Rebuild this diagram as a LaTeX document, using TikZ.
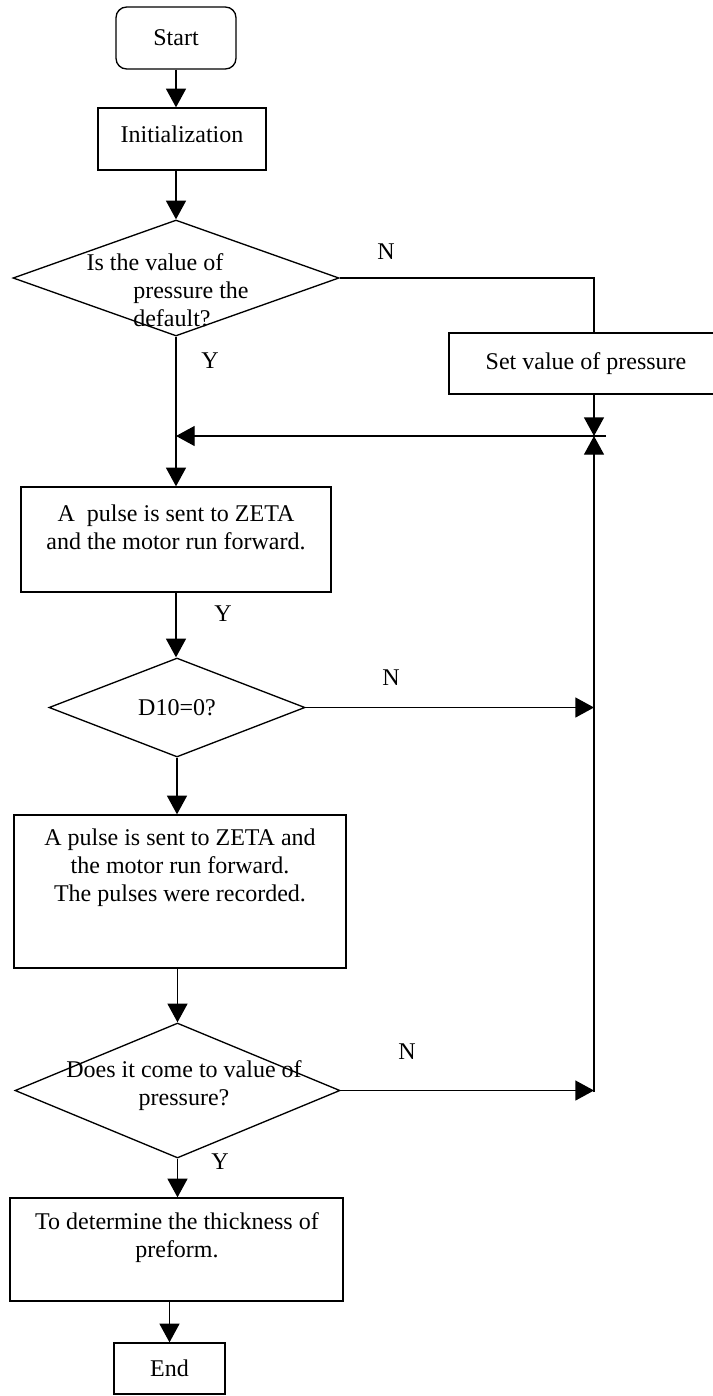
\documentclass[tikz,border=0pt]{standalone}
\usepackage{fontspec}
\setmainfont{Liberation Serif}
\usetikzlibrary{shapes.geometric,arrows.meta}
\begin{document}
\begin{tikzpicture}[x=0.75pt,y=-0.75pt,
  line width=1pt,
  txt/.style={font=\fontsize{18}{21}\selectfont, inner sep=0pt, align=center},
  sz/.style 2 args={minimum width=#1*0.75pt, minimum height=#2*0.75pt},
  box/.style={draw, rectangle, inner sep=0pt, txt},
  dia/.style={draw, diamond, inner sep=0pt, txt},
  arr/.style={-{Triangle[length=14pt,width=15pt]}},
]
\useasboundingbox (0,0) rectangle (713,1396);
\fill[white] (0,0) rectangle (713,1396);

% shapes
\node[box, rounded corners=8pt, sz={120}{62}] (start) at (176,38) {Start};
\node[box, sz={168}{62}] (init) at (182,139) {};
\node[txt] (initT) at (182,134) {Initialization};
\node[dia, sz={326}{116}] (d1) at (176,278) {};
\node[txt, anchor=west, align=left] (d1T) at (86,290) {Is the value of\\\hspace*{35pt}pressure the\\\hspace*{35pt}default?};
\node[box, sz={274}{61}] (set) at (586,363.5) {Set value of pressure};
\node[box, sz={310}{105}] (b2) at (176,539.5) {};
\node[txt] (b2T) at (176,527) {A\ \ pulse is sent to ZETA\\and the motor run forward.};
\node[dia, sz={256}{99}] (d2) at (177,707.5) {D10=0?};
\node[box, sz={332}{153}] (b3) at (180,891.5) {};
\node[txt] (b3T) at (180,868) {A pulse is sent to ZETA and\\the motor run forward.\\The pulses were recorded.};
\node[dia, sz={325}{135}] (d3) at (177.5,1090.5) {};
\node[txt] (d3T) at (184,1086) {Does it come to value of\\pressure?};
\node[box, sz={333}{103}] (b4) at (176.5,1249.5) {};
\node[txt] (b4T) at (177,1237.5) {To determine the thickness of\\preform.};
\node[box, sz={111}{51}] (end) at (169.5,1368.5) {End};

% labels
\node[txt] (n1) at (386,252) {N};
\node[txt] (y1) at (210,361) {Y};
\node[txt] (y2) at (223,614) {Y};
\node[txt] (n2) at (391,678) {N};
\node[txt] (n3) at (407,1052) {N};
\node[txt] (y3) at (220,1162) {Y};

% connectors
\coordinate (c1) at (594,278);
\coordinate (j) at (594,436);
\coordinate (hr) at (606,436);
\coordinate (cb) at (594,1092);
\draw[arr] (start.south) -- (start.south |- init.north);
\draw[arr] (d1.north |- init.south) -- (d1.north);
\draw (d1.east) -- (c1) -- (c1 |- set.north);
\draw[arr] (c1 |- set.south) -- (j);
\draw[arr] (hr) -- (hr -| d1.south);
\draw[arr] (d1.south) -- (d1.south |- b2.north);
\draw[arr] (cb) -- (j);
\draw[arr] (b2.south) -- (b2.south |- d2.north);
\draw[arr] (d2.east) -- (d2.east -| j);
\draw[arr] (d2.south) -- (d2.south |- b3.north);
\draw[arr] (d3.north |- b3.south) -- (d3.north);
\draw[arr] (d3.east) -- (d3.east -| j);
\draw[arr] (d3.south) -- (d3.south |- b4.north);
\draw[arr] (end.north |- b4.south) -- (end.north);
\end{tikzpicture}
\end{document}
